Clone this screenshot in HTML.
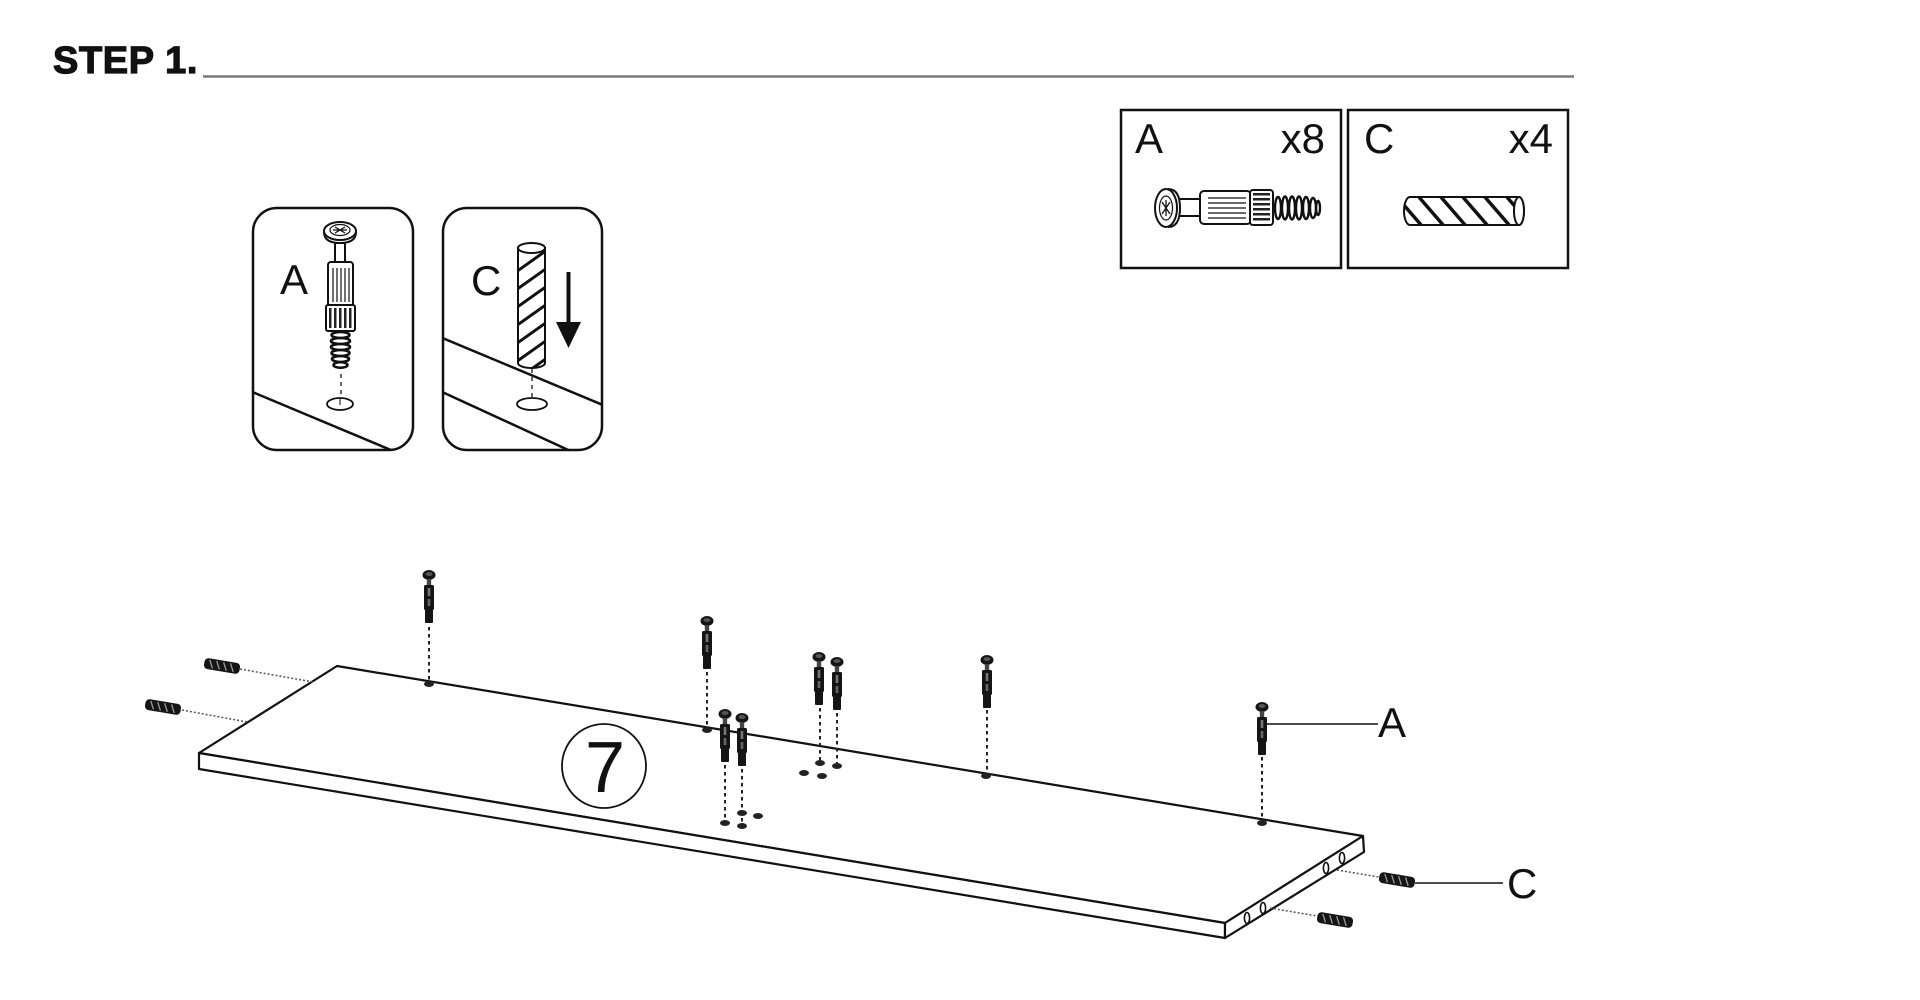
<!DOCTYPE html>
<html>
<head>
<meta charset="utf-8">
<style>
  html,body{margin:0;padding:0;background:#fff;}
  body{width:1920px;height:1000px;overflow:hidden;}
  svg{display:block;}
  .lbl{font-family:"Liberation Sans",Arial,sans-serif;fill:#111;}
  .step{font-family:"Liberation Sans",Arial,sans-serif;font-weight:bold;fill:#111;}
</style>
</head>
<body>
<svg width="1920" height="1000" viewBox="0 0 1920 1000" xmlns="http://www.w3.org/2000/svg">
  <defs>
    <!-- small screw, origin at top center -->
    <g id="sc">
      <ellipse cx="0" cy="5" rx="6.5" ry="5" fill="#151515"/>
      <ellipse cx="0" cy="4" rx="3.5" ry="2" fill="#555"/>
      <rect x="-2.2" y="9" width="4.4" height="7" fill="#444"/>
      <rect x="-5" y="15" width="10" height="25" rx="1.5" fill="#151515"/>
      <rect x="-1.3" y="18" width="2.6" height="8" fill="#777"/>
      <rect x="-1.3" y="29" width="2.6" height="7" fill="#666"/>
      <rect x="-4" y="39" width="8" height="14" rx="1" fill="#151515"/>
    </g>
    <!-- small dowel, centered, horizontal -->
    <g id="dw">
      <rect x="-18" y="-5.5" width="36" height="11" rx="4" fill="#151515"/>
      <g stroke="#9a9a9a" stroke-width="1.3">
        <line x1="-13" y1="-4" x2="-9" y2="4"/>
        <line x1="-6" y1="-4" x2="-2" y2="4"/>
        <line x1="1" y1="-4" x2="5" y2="4"/>
        <line x1="8" y1="-4" x2="12" y2="4"/>
      </g>
    </g>
    <clipPath id="cpA"><rect x="253" y="208" width="160" height="242" rx="24"/></clipPath>
    <clipPath id="cpC"><rect x="443" y="208" width="159" height="242" rx="24"/></clipPath>
    <clipPath id="cpDv"><path d="M518,248 V363 A13.5,5 0 0 0 545,363 V248 Z"/></clipPath>
    <clipPath id="cpDh"><path d="M1410,197 H1519 A5,14 0 0 1 1519,225 H1410 A6,14 0 0 1 1410,197 Z"/></clipPath>
  </defs>

  <rect width="1920" height="1000" fill="#fff"/>

  <!-- Header -->
  <text x="53" y="73" class="step" font-size="38" letter-spacing="0.6" stroke="#111" stroke-width="1.2">STEP 1.</text>
  <line x1="203" y1="76.5" x2="1574" y2="76.5" stroke="#7a7a7a" stroke-width="2.6"/>

  <!-- Panel A -->
  <rect x="253" y="208" width="160" height="242" rx="24" fill="#fff" stroke="#111" stroke-width="2.5"/>
  <g clip-path="url(#cpA)">
    <line x1="250" y1="391" x2="410" y2="458" stroke="#111" stroke-width="2.5"/>
  </g>
  <text x="280" y="294" class="lbl" font-size="42">A</text>
  <!-- vertical screw -->
  <g stroke="#111" fill="#fff">
    <path d="M324,232 Q324,243 340,243 Q356,243 356,232" stroke-width="2"/>
    <ellipse cx="340" cy="231" rx="16" ry="9" stroke-width="2"/>
    <ellipse cx="340" cy="230" rx="10" ry="5.5" stroke-width="1.2"/>
    <path d="M335,227 L345,233 M345,227 L335,233 M333,230 H347" stroke-width="1.3"/>
    <rect x="335" y="243" width="10" height="20" stroke-width="2"/>
    <rect x="328" y="262" width="25" height="44" rx="3" stroke-width="2"/>
    <path d="M333,268 V302 M337,268 V302 M341,268 V302 M345,268 V302 M349,268 V302" stroke-width="1.2"/>
    <rect x="326" y="305" width="29" height="26" rx="2" stroke-width="2"/>
  </g>
  <g fill="#222">
    <rect x="329" y="308" width="2.5" height="20"/>
    <rect x="334" y="308" width="2.5" height="20"/>
    <rect x="339" y="308" width="2.5" height="20"/>
    <rect x="344" y="308" width="2.5" height="20"/>
    <rect x="349" y="308" width="2.5" height="20"/>
  </g>
  <g fill="none" stroke="#111" stroke-width="2.6">
    <ellipse cx="340.5" cy="335" rx="9" ry="3"/>
    <ellipse cx="340.5" cy="341" rx="9.5" ry="3"/>
    <ellipse cx="340.5" cy="347" rx="9.5" ry="3"/>
    <ellipse cx="340.5" cy="353" rx="9" ry="3"/>
    <ellipse cx="340.5" cy="359" rx="8.5" ry="3"/>
    <ellipse cx="340.5" cy="365" rx="7" ry="2.8"/>
  </g>
  <line x1="341" y1="374" x2="341" y2="399" stroke="#333" stroke-width="1.5" stroke-dasharray="4 4"/>
  <ellipse cx="340" cy="404" rx="13" ry="6" fill="#fff" stroke="#111" stroke-width="1.8"/>
  <line x1="340" y1="399" x2="340" y2="405" stroke="#333" stroke-width="1.2"/>

  <!-- Panel C -->
  <rect x="443" y="208" width="159" height="242" rx="24" fill="#fff" stroke="#111" stroke-width="2.5"/>
  <g clip-path="url(#cpC)">
    <line x1="440" y1="337" x2="610" y2="408" stroke="#111" stroke-width="2.5"/>
    <line x1="440" y1="391" x2="590" y2="460" stroke="#111" stroke-width="2.5"/>
  </g>
  <text x="471" y="295" class="lbl" font-size="42">C</text>
  <!-- vertical dowel -->
  <path d="M518,248 V363 A13.5,5 0 0 0 545,363 V248 Z" fill="#fff" stroke="#111" stroke-width="2"/>
  <g clip-path="url(#cpDv)" stroke="#111" stroke-width="3">
    <line x1="516" y1="272" x2="547" y2="250"/>
    <line x1="516" y1="290" x2="547" y2="268"/>
    <line x1="516" y1="308" x2="547" y2="286"/>
    <line x1="516" y1="326" x2="547" y2="304"/>
    <line x1="516" y1="344" x2="547" y2="322"/>
    <line x1="516" y1="362" x2="547" y2="340"/>
    <line x1="516" y1="380" x2="547" y2="358"/>
  </g>
  <ellipse cx="531.5" cy="248" rx="13.5" ry="5" fill="#fff" stroke="#111" stroke-width="2"/>
  <line x1="532" y1="369" x2="532" y2="400" stroke="#333" stroke-width="1.5" stroke-dasharray="4 4"/>
  <ellipse cx="532" cy="404" rx="15" ry="6" fill="#fff" stroke="#111" stroke-width="1.8"/>
  <!-- arrow -->
  <rect x="566.5" y="272" width="4" height="52" fill="#111"/>
  <polygon points="556,322 581,322 568.5,348" fill="#111"/>

  <!-- Parts box A -->
  <rect x="1121" y="110" width="220" height="158" fill="#fff" stroke="#111" stroke-width="2.5"/>
  <text x="1135" y="153" class="lbl" font-size="42">A</text>
  <text x="1325" y="153" class="lbl" font-size="42" text-anchor="end">x8</text>
  <g stroke="#111" fill="#fff">
    <rect x="1176" y="199" width="26" height="17" stroke-width="2"/>
    <path d="M1168,189 Q1180,189 1180,208 Q1180,227 1168,227" stroke-width="2"/>
    <ellipse cx="1166" cy="208" rx="11" ry="19" stroke-width="2"/>
    <ellipse cx="1166" cy="208" rx="6.5" ry="12" stroke-width="1.2"/>
    <path d="M1162,202 L1170,214 M1170,202 L1162,214 M1166,200 V216" stroke-width="1.3"/>
    <rect x="1200" y="191" width="51" height="33" rx="4" stroke-width="2"/>
    <path d="M1208,198 H1246 M1208,203 H1246 M1208,208 H1246 M1208,213 H1246 M1208,218 H1246" stroke-width="1.2"/>
    <rect x="1250" y="190" width="23" height="35" rx="3" stroke-width="2"/>
  </g>
  <g fill="#222">
    <rect x="1253" y="193" width="17" height="2.5"/>
    <rect x="1253" y="198" width="17" height="2.5"/>
    <rect x="1253" y="203" width="17" height="2.5"/>
    <rect x="1253" y="208" width="17" height="2.5"/>
    <rect x="1253" y="213" width="17" height="2.5"/>
    <rect x="1253" y="218" width="17" height="2.5"/>
  </g>
  <g fill="none" stroke="#111" stroke-width="2.4">
    <ellipse cx="1278" cy="208" rx="3" ry="11"/>
    <ellipse cx="1285" cy="208" rx="3" ry="11.5"/>
    <ellipse cx="1292" cy="208" rx="3" ry="11.5"/>
    <ellipse cx="1299" cy="208" rx="3" ry="11.5"/>
    <ellipse cx="1306" cy="208" rx="3" ry="11"/>
    <ellipse cx="1313" cy="208" rx="3" ry="10"/>
    <ellipse cx="1318" cy="208" rx="2" ry="7"/>
  </g>

  <!-- Parts box C -->
  <rect x="1348" y="110" width="220" height="158" fill="#fff" stroke="#111" stroke-width="2.5"/>
  <text x="1364" y="153" class="lbl" font-size="42">C</text>
  <text x="1553" y="153" class="lbl" font-size="42" text-anchor="end">x4</text>
  <path d="M1410,197 H1519 A5,14 0 0 1 1519,225 H1410 A6,14 0 0 1 1410,197 Z" fill="#fff" stroke="#111" stroke-width="2"/>
  <g clip-path="url(#cpDh)" stroke="#111" stroke-width="3.5">
    <line x1="1396" y1="196" x2="1422" y2="226"/>
    <line x1="1418" y1="196" x2="1444" y2="226"/>
    <line x1="1440" y1="196" x2="1466" y2="226"/>
    <line x1="1462" y1="196" x2="1488" y2="226"/>
    <line x1="1484" y1="196" x2="1510" y2="226"/>
    <line x1="1506" y1="196" x2="1532" y2="226"/>
  </g>
  <ellipse cx="1519" cy="211" rx="5" ry="14" fill="#fff" stroke="#111" stroke-width="2"/>

  <!-- Board 7 -->
  <polygon points="337,666 1363,836 1225,923 199,753" fill="#fff" stroke="#111" stroke-width="2.2" stroke-linejoin="round"/>
  <polygon points="199,753 1225,923 1225,938 199,769" fill="#fff" stroke="#111" stroke-width="2.2" stroke-linejoin="round"/>
  <polygon points="1225,923 1363,836 1364,852 1225,938" fill="#fff" stroke="#111" stroke-width="2.2" stroke-linejoin="round"/>

  <!-- right side face holes -->
  <g fill="#fff" stroke="#111" stroke-width="1.6">
    <ellipse cx="1326" cy="868" rx="2.6" ry="5.5"/>
    <ellipse cx="1342" cy="858" rx="2.6" ry="5.5"/>
    <ellipse cx="1247" cy="918" rx="2.6" ry="5.5"/>
    <ellipse cx="1263" cy="908" rx="2.6" ry="5.5"/>
  </g>

  <!-- circle 7 -->
  <circle cx="604" cy="766" r="42" fill="#fff" stroke="#111" stroke-width="1.8"/>
  <text x="605" y="792" class="lbl" font-size="72" text-anchor="middle">7</text>

  <!-- holes on top face -->
  <g fill="#222">
    <ellipse cx="429" cy="684" rx="5" ry="3"/>
    <ellipse cx="707" cy="730" rx="5" ry="3"/>
    <ellipse cx="725" cy="823" rx="5" ry="3"/>
    <ellipse cx="742" cy="826" rx="5" ry="3"/>
    <ellipse cx="742" cy="813" rx="5" ry="3"/>
    <ellipse cx="758" cy="816" rx="5" ry="3"/>
    <ellipse cx="820" cy="763" rx="5" ry="3"/>
    <ellipse cx="837" cy="766" rx="5" ry="3"/>
    <ellipse cx="804" cy="773" rx="5" ry="3"/>
    <ellipse cx="822" cy="776" rx="5" ry="3"/>
    <ellipse cx="986" cy="776" rx="5" ry="3"/>
    <ellipse cx="1262" cy="823" rx="5" ry="3"/>
  </g>

  <!-- screw dashed guide lines -->
  <g stroke="#222" stroke-width="2" stroke-dasharray="3.5 3.5">
    <line x1="429" y1="627" x2="429" y2="681"/>
    <line x1="707" y1="672" x2="707" y2="727"/>
    <line x1="725" y1="765" x2="725" y2="820"/>
    <line x1="742" y1="769" x2="742" y2="823"/>
    <line x1="820" y1="708" x2="820" y2="760"/>
    <line x1="837" y1="713" x2="837" y2="763"/>
    <line x1="987" y1="710" x2="987" y2="773"/>
    <line x1="1262" y1="757" x2="1262" y2="820"/>
  </g>

  <!-- screws -->
  <use href="#sc" x="429" y="570"/>
  <use href="#sc" x="707" y="616"/>
  <use href="#sc" x="725" y="709"/>
  <use href="#sc" x="742" y="713"/>
  <use href="#sc" x="819" y="652"/>
  <use href="#sc" x="837" y="657"/>
  <use href="#sc" x="987" y="655"/>
  <use href="#sc" x="1262" y="702"/>

  <!-- dowel dashed guides -->
  <g stroke="#555" stroke-width="1.5" stroke-dasharray="2 2">
    <line x1="240" y1="669" x2="313" y2="682"/>
    <line x1="182" y1="710" x2="247" y2="722"/>
    <line x1="1337" y1="870" x2="1379" y2="877"/>
    <line x1="1270" y1="908" x2="1317" y2="916"/>
  </g>

  <!-- dowels -->
  <use href="#dw" transform="translate(222,666) rotate(9.4)"/>
  <use href="#dw" transform="translate(163,707) rotate(9.4)"/>
  <use href="#dw" transform="translate(1397,880) rotate(9.4)"/>
  <use href="#dw" transform="translate(1335,920) rotate(9.4)"/>

  <!-- leaders & labels -->
  <line x1="1267" y1="724" x2="1378" y2="724" stroke="#111" stroke-width="1.6"/>
  <text x="1378" y="737" class="lbl" font-size="42">A</text>
  <line x1="1415" y1="883" x2="1503" y2="883" stroke="#111" stroke-width="1.6"/>
  <text x="1507" y="898" class="lbl" font-size="42">C</text>
</svg>
</body>
</html>
